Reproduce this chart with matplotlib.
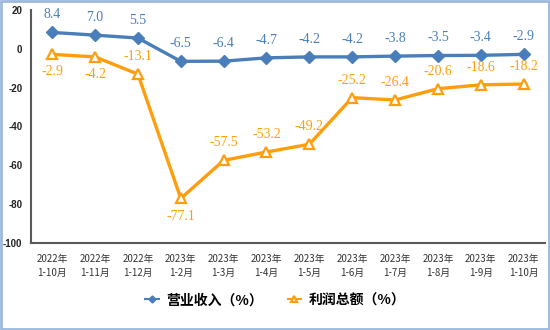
import matplotlib.pyplot as plt
from matplotlib.patches import Rectangle

plt.rcParams['font.family'] = ['Noto Sans CJK SC', 'DejaVu Sans']

# 月份累计
periods = ['2022年\n1-10月', '2022年\n1-11月', '2022年\n1-12月', '2023年\n1-2月',
           '2023年\n1-3月', '2023年\n1-4月', '2023年\n1-5月', '2023年\n1-6月',
           '2023年\n1-7月', '2023年\n1-8月', '2023年\n1-9月', '2023年\n1-10月']
revenue = [8.4, 7.0, 5.5, -6.5, -6.4, -4.7, -4.2, -4.2, -3.8, -3.5, -3.4, -2.9]
profit = [-2.9, -4.2, -13.1, -77.1, -57.5, -53.2, -49.2, -25.2, -26.4, -20.6, -18.6, -18.2]
# 利润标签放在点的上方(+1)或下方(-1)
profit_side = [-1, -1, 1, -1, 1, 1, 1, 1, 1, 1, 1, 1]

blue = '#4A7EBB'
orange = '#FF9E0D'

fig = plt.figure(figsize=(5.5, 3.3), dpi=100)
ax = fig.add_axes([0.056, 0.264, 0.935, 0.706])

x = list(range(len(periods)))
ax.plot(x, revenue, color=blue, lw=2.4, marker='D', ms=6,
        mfc=blue, mec=blue, label='营业收入（%）', zorder=3)
ax.plot(x, profit, color=orange, lw=2.4, marker='^', ms=7.5,
        mfc='white', mec=orange, mew=1.6, label='利润总额（%）', zorder=3)

serif = 'Liberation Serif'
for i, v in enumerate(revenue):
    ax.annotate(f'{v:.1f}', (i, v), xytext=(0, 8), textcoords='offset points',
                ha='center', va='bottom', color=blue, fontsize=10, family=serif)
for i, v in enumerate(profit):
    s = profit_side[i]
    ax.annotate(f'{v:.1f}', (i, v), xytext=(0, 8 * s), textcoords='offset points',
                ha='center', va='bottom' if s > 0 else 'top',
                color=orange, fontsize=10, family=serif)

ax.set_xlim(-0.5, len(periods) - 0.5)
ax.set_ylim(-100, 20)
ax.set_yticks(range(-100, 21, 20))
ax.set_yticklabels([str(t) for t in range(-100, 21, 20)],
                   fontsize=7, fontweight='bold', family='Liberation Sans', color='#222222')
ax.set_xticks(x)
ax.set_xticklabels(periods, fontsize=7, color='#333333', linespacing=1.5)
ax.tick_params(length=0, pad=6)
ax.tick_params(axis='x', pad=8)

for side in ['top', 'right']:
    ax.spines[side].set_visible(False)
for side in ['left', 'bottom']:
    ax.spines[side].set_color('#595959')
    ax.spines[side].set_linewidth(1.5)

leg = ax.legend(loc='center', bbox_to_anchor=(0.5, 0.09), bbox_transform=fig.transFigure,
                ncol=2, frameon=False, handlelength=1.0, handletextpad=0.5,
                columnspacing=1.8, markerscale=0.6,
                prop={'size': 10, 'weight': 'bold'})
for line in leg.get_lines():
    line.set_linewidth(1.5)

# 外框
fig.patches.append(Rectangle((0.002, 0.003), 0.996, 0.994, transform=fig.transFigure,
                             fill=False, ec='#9DB9DE', lw=2))

fig.savefig('out.png', dpi=100)
